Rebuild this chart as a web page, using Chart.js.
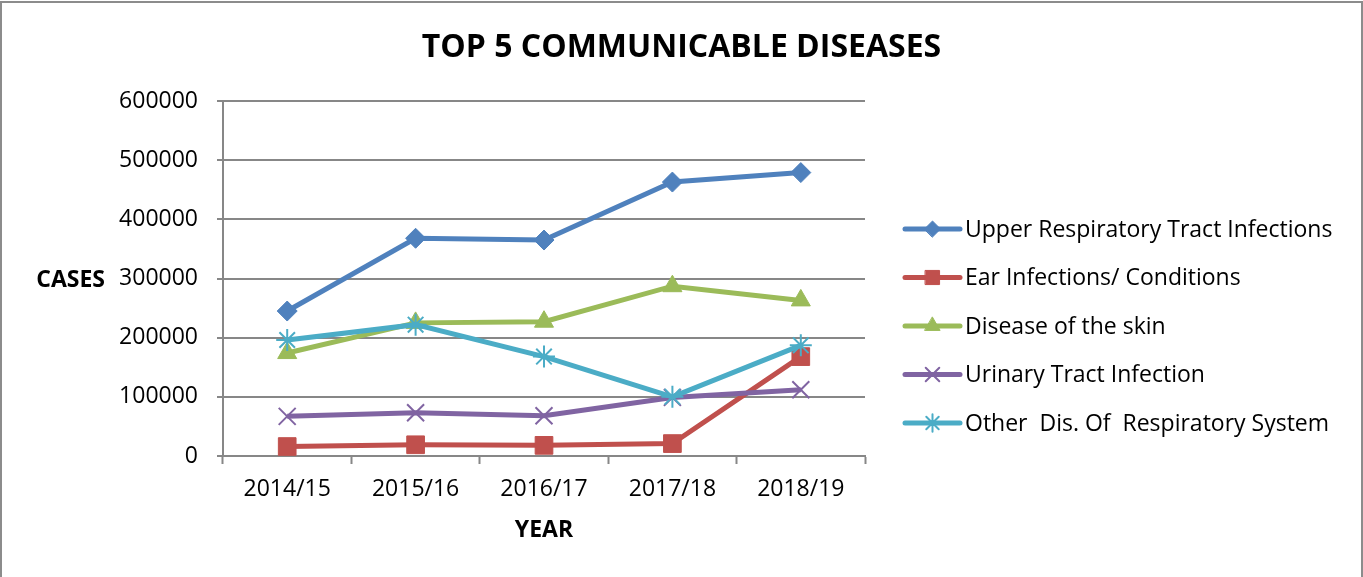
<!DOCTYPE html>
<html>
<head>
<meta charset="utf-8">
<title>Top 5 Communicable Diseases</title>
<script src="https://cdn.jsdelivr.net/npm/chart.js@4.4.1/dist/chart.umd.min.js"></script>
<style>
    body { margin: 0; background: #fff; }
    #chartBox { position: relative; width: 1363px; height: 577px; overflow: hidden; }
    #diseaseChart { position: absolute; left: 0; top: 0; }
    #frame { position: absolute; left: 0; top: 1px; width: 1359px; height: 620px; border: 2px solid #8c8c8c; pointer-events: none; }
</style>
</head>
<body>
<div id="chartBox">
    <canvas id="diseaseChart" width="1363" height="577"></canvas>
    <div id="frame"></div>
</div>
<script>
/* Chart data */
let years = ['2014/15', '2015/16', '2016/17', '2017/18', '2018/19'];
let yTicks = [0, 100000, 200000, 300000, 400000, 500000, 600000];

let seriesNames = [
    'Upper Respiratory Tract Infections',
    'Ear Infections/ Conditions',
    'Disease of the skin',
    'Urinary Tract Infection',
    'Other  Dis. Of  Respiratory System'
];

let upperRespiratory = [245000, 368000, 365000, 463000, 479000];
let earInfections = [16000, 19000, 18000, 21000, 168000];
let skinDisease = [174000, 225000, 227000, 287000, 263000];
let urinaryTract = [67000, 73000, 68000, 99000, 112000];
let otherRespiratory = [196000, 222000, 168000, 100000, 187000];

let seriesColors = ['#4f81bd', '#c0504d', '#9bbb59', '#8064a2', '#4bacc6'];
let markerStyles = ['rectRot', 'rect', 'triangle', 'crossRot', 'star'];
let markerSizes = [10, 12.5, 11, 12, 11];

const FONT = "'Open Sans', 'DejaVu Sans', sans-serif";
const GRID = '#878787';
const TITLE = 'TOP 5 COMMUNICABLE DISEASES';

function MakeDataset(index, values) {
    let isOpen = markerStyles[index] === 'crossRot' || markerStyles[index] === 'star';
    return {
        label: seriesNames[index],
        data: values,
        borderColor: seriesColors[index],
        backgroundColor: seriesColors[index],
        borderWidth: 5,
        pointStyle: markerStyles[index],
        pointRadius: markerSizes[index],
        pointBackgroundColor: seriesColors[index],
        pointBorderColor: seriesColors[index],
        pointBorderWidth: isOpen ? 2 : 1,
        tension: 0,
        order: 4 - index
    };
}

/* title centred on the whole picture, like Excel does */
const wideTitle = {
    id: 'wideTitle',
    afterDraw(chart) {
        let ctx = chart.ctx;
        ctx.save();
        ctx.fillStyle = '#000';
        ctx.font = 'bold 32px ' + FONT;
        ctx.textAlign = 'center';
        ctx.textBaseline = 'middle';
        ctx.fillText(TITLE, chart.width / 2, 48);
        ctx.restore();
    }
};

/* Excel style legend: line sample with marker, then the name */
const sideLegend = {
    id: 'sideLegend',
    afterDraw(chart) {
        let ctx = chart.ctx;
        let area = chart.chartArea;
        let x0 = area.right + 40;
        let y0 = area.top + 128;
        let step = 48.5;

        chart.data.datasets.forEach(function (ds, i) {
            let y = y0 + i * step;
            ctx.save();
            ctx.strokeStyle = ds.borderColor;
            ctx.lineWidth = 5;
            ctx.lineCap = 'round';
            ctx.beginPath();
            ctx.moveTo(x0, y);
            ctx.lineTo(x0 + 55, y);
            ctx.stroke();

            ctx.fillStyle = ds.pointBackgroundColor;
            ctx.strokeStyle = ds.pointBorderColor;
            ctx.lineWidth = ds.pointBorderWidth;
            Chart.helpers.drawPoint(ctx, {
                pointStyle: ds.pointStyle,
                radius: ds.pointRadius * 0.8,
                rotation: 0,
                borderWidth: ds.pointBorderWidth
            }, x0 + 27.5, y);

            ctx.fillStyle = '#000';
            ctx.font = '23px ' + FONT;
            ctx.textAlign = 'left';
            ctx.textBaseline = 'middle';
            ctx.fillText(ds.label, x0 + 60, y + 1);
            ctx.restore();
        });
    }
};

/* horizontal "CASES" label next to the value axis */
const casesLabel = {
    id: 'casesLabel',
    afterDraw(chart) {
        let ctx = chart.ctx;
        let y = chart.scales.y.getPixelForValue(300000);
        ctx.save();
        ctx.fillStyle = '#000';
        ctx.font = 'bold 23px ' + FONT;
        ctx.textAlign = 'right';
        ctx.textBaseline = 'middle';
        ctx.fillText('CASES', chart.chartArea.left - 118, y + 2);
        ctx.restore();
    }
};

let ctx = document.getElementById('diseaseChart').getContext('2d');

let graphic = new Chart(ctx, {
    type: 'line',
    data: {
        labels: years,
        datasets: [
            MakeDataset(0, upperRespiratory),
            MakeDataset(1, earInfections),
            MakeDataset(2, skinDisease),
            MakeDataset(3, urinaryTract),
            MakeDataset(4, otherRespiratory)
        ]
    },
    options: {
        responsive: false,
        animation: false,
        devicePixelRatio: 1,
        layout: {
            padding: { left: 0, right: 498, top: 101, bottom: 0 }
        },
        plugins: {
            legend: { display: false },
            tooltip: { enabled: false },
            title: { display: false }
        },
        scales: {
            x: {
                offset: true,
                grid: {
                    offset: true,
                    drawOnChartArea: false,
                    tickLength: 8,
                    tickColor: GRID,
                    tickWidth: 2
                },
                border: { color: GRID, width: 2 },
                ticks: {
                    color: '#000',
                    font: { family: FONT, size: 23 },
                    padding: 12,
                    maxRotation: 0
                },
                title: {
                    display: true,
                    text: 'YEAR',
                    color: '#000',
                    font: { family: FONT, size: 23, weight: 'bold' },
                    padding: { top: 10, bottom: 33 }
                },
                afterFit: function (scale) {
                    scale.height = 121;
                }
            },
            y: {
                min: yTicks[0],
                max: yTicks[yTicks.length - 1],
                grid: {
                    color: GRID,
                    lineWidth: 2,
                    tickLength: 6,
                    tickColor: GRID
                },
                border: { color: GRID, width: 2 },
                ticks: {
                    stepSize: yTicks[1] - yTicks[0],
                    color: '#000',
                    font: { family: FONT, size: 23 },
                    padding: 19,
                    callback: function (value) {
                        return value;
                    }
                },
                afterFit: function (scale) {
                    scale.width = 223;
                }
            }
        }
    },
    plugins: [wideTitle, sideLegend, casesLabel]
});
</script>
</body>
</html>
